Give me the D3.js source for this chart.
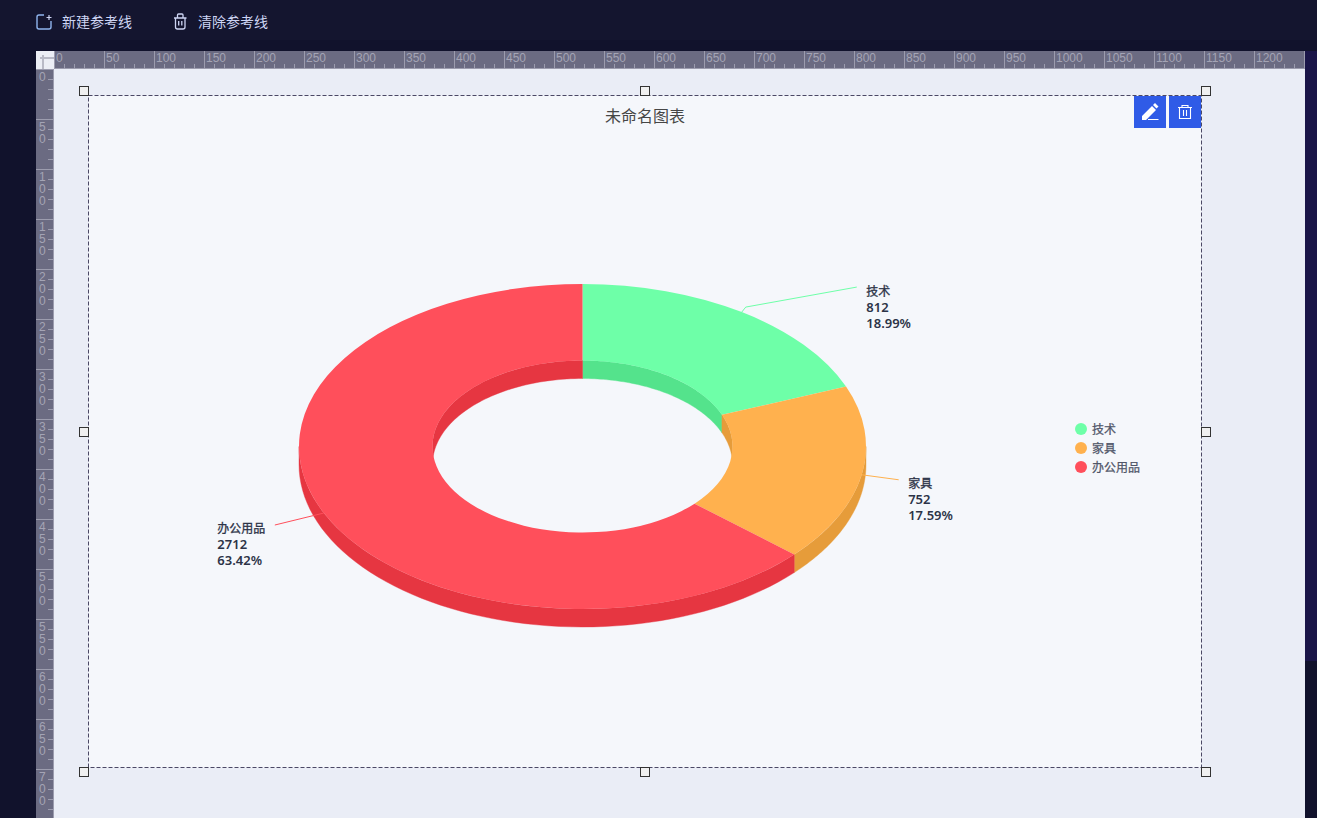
<!DOCTYPE html>
<html>
<head>
<meta charset="utf-8">
<style>
  html, body { margin: 0; padding: 0; overflow: hidden; background: #11122c; }
  svg { display: block; }
  text { font-family: "Noto Sans", "Noto Sans CJK SC", sans-serif; }
</style>
<script src="https://cdnjs.cloudflare.com/ajax/libs/d3/7.8.5/d3.min.js"></script>
</head>
<body>
<script>
var width = 1317;
var height = 818;

// Chart data
var categories = ["技术", "家具", "办公用品"];
var values = [812, 752, 2712];
var topColors = ["#6effa8", "#ffb14e", "#ff4f5b"];
var sideColors = ["#54e38c", "#e69c3a", "#e63641"];

// Editor chrome labels
var toolbarLabels = ["新建参考线", "清除参考线"];
var rulerStep = 50;
var hRulerTicks = d3.range(0, 1201, rulerStep);
var vRulerTicks = d3.range(0, 701, rulerStep);

// Layout of the label leaders, one per category
var leaderDx = [115, 37, -49];
var leaderDy = [-25, 5, 12];
var labelGap = [9.5, 9.5, -57.5];
var labelDrop = [9, 8, 8];

var svg = d3.select("body").append("svg")
  .attr("width", width)
  .attr("height", height);

// Page background
svg.append("rect").attr("width", width).attr("height", height).attr("fill", "#11122c");
svg.append("rect").attr("width", width).attr("height", 40).attr("fill", "#14152f");
svg.append("rect").attr("x", 1305).attr("y", 51).attr("width", 12).attr("height", 610).attr("fill", "#1a1548");
svg.append("rect").attr("x", 36).attr("y", 51).attr("width", 1269).attr("height", 767).attr("fill", "#eaedf6");

// Toolbar
var toolbar = svg.append("g");
toolbar.selectAll("text").data(toolbarLabels).enter().append("text")
  .attr("x", function(d, i) { return i == 0 ? 62 : 198; })
  .attr("y", 27)
  .attr("font-size", 14)
  .attr("fill", "#ced5f4")
  .text(function(d) { return d; });

toolbar.append("path")
  .attr("d", "M44 15H39a2 2 0 0 0-2 2V27a2 2 0 0 0 2 2H49a2 2 0 0 0 2-2V21")
  .attr("fill", "none").attr("stroke", "#8fb4ee").attr("stroke-width", 1.4);
toolbar.append("path")
  .attr("d", "M46.500 17.500H51.500M49 15V20")
  .attr("fill", "none").attr("stroke", "#ced5f4").attr("stroke-width", 1.2);
toolbar.append("path")
  .attr("d", "M174 18H186.500M175.500 18V27a2 2 0 0 0 2 2H183a2 2 0 0 0 2-2V18M177.500 18V15a1 1 0 0 1 1-1H182a1 1 0 0 1 1 1V18M178.700 21V25.500M181.800 21V25.500")
  .attr("fill", "none").attr("stroke", "#ced5f4").attr("stroke-width", 1.3);

// Rulers
var hRuler = d3.scaleLinear().domain([0, 1251]).range([54, 1305]);
var vRuler = d3.scaleLinear().domain([0, 749]).range([69, 818]);

svg.append("rect").attr("x", 36).attr("y", 51).attr("width", 1269).attr("height", 18).attr("fill", "#6b6b82");
svg.append("rect").attr("x", 36).attr("y", 69).attr("width", 18).attr("height", 749).attr("fill", "#6b6b82");
svg.append("rect").attr("x", 36).attr("y", 51).attr("width", 18).attr("height", 18).attr("fill", "#eceef5");
svg.append("path").attr("d", "M40 58H54M43 55V69").attr("stroke", "#b9bac6").attr("stroke-width", 2).attr("fill", "none");
svg.append("rect").attr("x", 54).attr("y", 68).attr("width", 1251).attr("height", 1).attr("fill", "#9c9cae");

var hMinor = d3.range(0, 1251, 10);
svg.append("g").selectAll("line").data(hMinor).enter().append("line")
  .attr("x1", function(d) { return hRuler(d) + 0.5; })
  .attr("x2", function(d) { return hRuler(d) + 0.5; })
  .attr("y1", function(d) { return d % rulerStep == 0 ? 51 : 64; })
  .attr("y2", 68)
  .attr("stroke", "#9c9cae");

svg.append("g").selectAll("text").data(hRulerTicks).enter().append("text")
  .attr("x", function(d) { return hRuler(d) + 2; })
  .attr("y", 62)
  .attr("font-size", 12)
  .attr("fill", "#a4a4b5")
  .style("font-family", "'Liberation Sans', sans-serif")
  .text(function(d) { return d; });

var vMinor = d3.range(0, 750, 10);
svg.append("g").selectAll("line").data(vMinor).enter().append("line")
  .attr("x1", function(d) { return d % rulerStep == 0 ? 36 : 48; })
  .attr("x2", 53)
  .attr("y1", function(d) { return vRuler(d) + 0.5; })
  .attr("y2", function(d) { return vRuler(d) + 0.5; })
  .attr("stroke", "#9c9cae");
svg.append("rect").attr("x", 53).attr("y", 69).attr("width", 1).attr("height", 749).attr("fill", "#9c9cae");

// vertical ruler labels are stacked one digit per row
vRulerTicks.forEach(function(t) {
  String(t).split("").forEach(function(ch, i) {
    svg.append("text")
      .attr("x", 39)
      .attr("y", vRuler(t) + 12 + i * 12)
      .attr("font-size", 12)
      .attr("fill", "#a4a4b5")
      .style("font-family", "'Liberation Sans', sans-serif")
      .text(ch);
  });
});

// Chart panel
svg.append("rect")
  .attr("x", 88.5).attr("y", 95.5).attr("width", 1113).attr("height", 672)
  .attr("fill", "#f5f7fb")
  .attr("stroke", "#4b4865")
  .attr("stroke-dasharray", "4,2");

var handleX = [84, 645, 1206];
var handleY = [91, 432, 772];
handleY.forEach(function(y, row) {
  handleX.forEach(function(x, col) {
    if (row == 1 && col == 1) return;
    svg.append("rect")
      .attr("x", x - 4.5).attr("y", y - 4.5).attr("width", 9).attr("height", 9)
      .attr("fill", "#f0f0f0").attr("stroke", "#333");
  });
});

// Edit buttons
svg.append("rect").attr("x", 1134).attr("y", 96).attr("width", 32).attr("height", 32).attr("fill", "#2f5be7");
svg.append("rect").attr("x", 1169).attr("y", 96).attr("width", 32).attr("height", 32).attr("fill", "#2f5be7");
svg.append("path")
  .attr("d", "M1142 120V116L1152 106L1156 110L1146 120ZM1153 105L1155 103L1158.500 106.500L1156.500 108.500ZM1148 119H1158.500V120H1148Z")
  .attr("fill", "#fff");
svg.append("path")
  .attr("d", "M1178 107.500H1192M1179.500 107.500V118.500H1190.500V107.500M1182 107.500V105.500H1188V107.500M1183.500 110V116M1186.500 110V116")
  .attr("fill", "none").attr("stroke", "#fff").attr("stroke-width", 1.1);

// Title
svg.append("text")
  .attr("x", 645).attr("y", 122)
  .attr("text-anchor", "middle")
  .attr("font-size", 16)
  .attr("fill", "#464646")
  .text("未命名图表");

// Donut, a flat pie squashed into an ellipse with a dropped wall
var cx = 582.5, cy = 446.5;
var outerR = 283.5, innerR = 150;
var tilt = 162.5 / 283.5;
var depth = 18;

var pie = d3.pie().sort(null).startAngle(0).endAngle(2 * Math.PI);
var slices = pie(values);
var total = d3.sum(values);
var fmtPct = d3.format(".2f");

var arc = d3.arc().innerRadius(innerR).outerRadius(outerR);

function project(r, a, drop) {
  return [cx + r * Math.sin(a), cy - r * tilt * Math.cos(a) + drop];
}

// wall between angles a0 and a1 on radius r
function wallPath(r, a0, a1) {
  var steps = d3.range(0, 61).map(function(i) { return a0 + (a1 - a0) * i / 60; });
  var top = steps.map(function(a) { return project(r, a, 0); });
  var bottom = steps.slice().reverse().map(function(a) { return project(r, a, depth); });
  return d3.line()(top.concat(bottom)) + "Z";
}

var PI = Math.PI;
var walls = svg.append("g");
// the ring shows the inside of its far half and the outside of its near half
var visibleRanges = [
  { r: innerR, from: 0, to: PI / 2 },
  { r: innerR, from: 1.5 * PI, to: 2 * PI },
  { r: outerR, from: PI / 2, to: 1.5 * PI }
];
slices.forEach(function(s, i) {
  visibleRanges.forEach(function(v) {
    var a0 = Math.max(s.startAngle, v.from);
    var a1 = Math.min(s.endAngle, v.to);
    if (a1 <= a0) return;
    walls.append("path")
      .attr("d", wallPath(v.r, a0, a1))
      .attr("fill", sideColors[i])
      .attr("stroke", sideColors[i])
      .attr("stroke-width", 0.4);
  });
});

svg.append("g")
  .attr("transform", "translate(" + cx + "," + cy + ") scale(1," + tilt + ")")
  .selectAll("path").data(slices).enter().append("path")
  .attr("d", arc)
  .attr("fill", function(d, i) { return topColors[i]; });

// Leaders and labels
slices.forEach(function(s, i) {
  var mid = (s.startAngle + s.endAngle) / 2;
  var start = project(outerR, mid, 0);
  var end = [start[0] + leaderDx[i], start[1] + leaderDy[i]];
  var points = [start];
  if (i == 0) points.push([start[0] + 4, start[1] - 5]);
  points.push(end);

  svg.append("path")
    .attr("d", d3.line()(points))
    .attr("fill", "none")
    .attr("stroke", topColors[i])
    .attr("stroke-width", 1);

  var lines = [categories[i], values[i], fmtPct(values[i] / total * 100) + "%"];
  svg.append("g").selectAll("text").data(lines).enter().append("text")
    .attr("x", end[0] + labelGap[i])
    .attr("y", function(d, k) { return end[1] + labelDrop[i] + k * 16; })
    .attr("font-size", function(d, k) { return k == 0 ? 12 : 13; })
    .attr("font-weight", function(d, k) { return k == 0 ? 400 : 600; })
    .attr("fill", "#2c3347")
    .attr("stroke", function(d, k) { return k == 0 ? "#2c3347" : "none"; })
    .attr("stroke-width", 0.3)
    .text(function(d) { return d; });
});

// Legend
var legendY = d3.scalePoint().domain(categories).range([429, 467]);
var legend = svg.append("g").selectAll("g").data(categories).enter().append("g");
legend.append("circle")
  .attr("cx", 1081)
  .attr("cy", function(d) { return legendY(d); })
  .attr("r", 6)
  .attr("fill", function(d, i) { return topColors[i]; });
legend.append("text")
  .attr("x", 1092)
  .attr("y", function(d) { return legendY(d) + 5; })
  .attr("font-size", 12)
  .attr("fill", "#4f5568")
  .attr("stroke", "#4f5568")
  .attr("stroke-width", 0.25)
  .text(function(d) { return d; });
</script>
</body>
</html>
